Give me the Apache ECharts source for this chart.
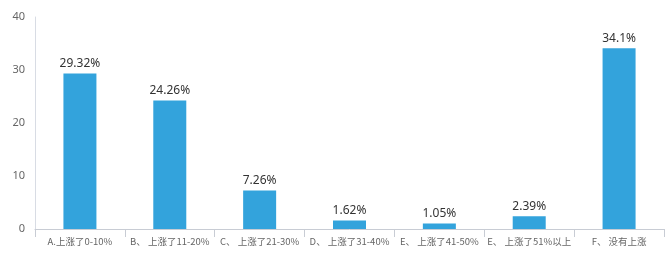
<!DOCTYPE html>
<html><head><meta charset="utf-8">
<script src="https://cdn.jsdelivr.net/npm/echarts@6/dist/echarts.min.js"></script>
<style>html,body{margin:0;padding:0;background:#fff}#c{width:672px;height:255px}</style>
</head><body><div id="c"></div>
<script>
var categories = ["A.上涨了0-10%", "B、 上涨了11-20%", "C、 上涨了21-30%", "D、 上涨了31-40%", "E、 上涨了41-50%", "E、 上涨了51%以上", "F、 没有上涨"];
var values = [29.32, 24.26, 7.26, 1.62, 1.05, 2.39, 34.1];
var yTicks = [0, 10, 20, 30, 40];
var chart = echarts.init(document.getElementById('c'));
chart.setOption({
  animation: false,
  grid: {left: 35, right: 8, top: 17, bottom: 26},
  xAxis: {
    type: 'category', data: categories,
    axisLine: {lineStyle: {color: '#c8ccd4'}},
    axisTick: {show: true, length: 8, lineStyle: {color: '#c8ccd4'}},
    axisLabel: {color: '#666', fontSize: 9.5, fontFamily: 'Noto Sans CJK SC', margin: 8, interval: 0}
  },
  yAxis: {
    type: 'value', min: yTicks[0], max: yTicks[yTicks.length-1], interval: 10,
    axisLine: {show: true, lineStyle: {color: '#d8dce4'}},
    axisTick: {show: false},
    splitLine: {show: false},
    axisLabel: {color: '#666', fontSize: 11, fontFamily: 'Noto Sans', margin: 10}
  },
  series: [{
    type: 'bar', data: values, barWidth: 33,
    itemStyle: {color: '#33a3dc'},
    label: {show: true, position: 'top', distance: 4, color: '#333', fontSize: 12, fontFamily: 'Noto Sans',
      formatter: function(p){ return p.value + '%'; }}
  }]
});
</script></body></html>
